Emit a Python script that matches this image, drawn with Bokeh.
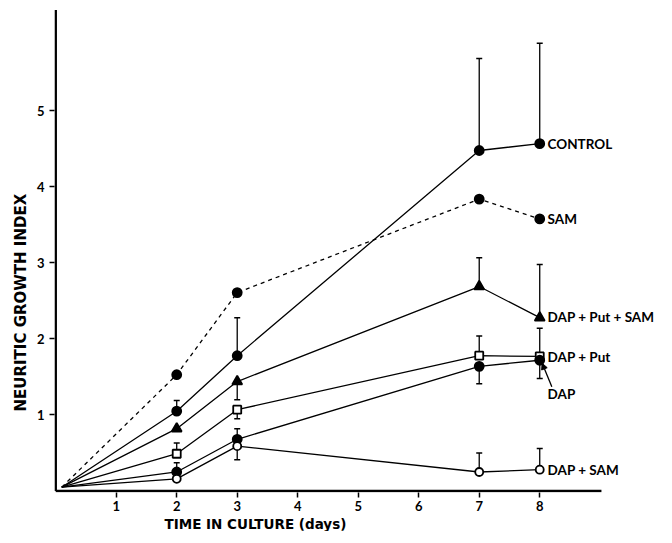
from bokeh.plotting import figure
from bokeh.models import Range1d, FixedTicker, Arrow, NormalHead, ColumnDataSource, LabelSet, Title
from bokeh.core.properties import value
from bokeh.embed import file_html
from bokeh.resources import INLINE

# ---------------- data ----------------
days = [0.1, 2, 3, 7, 8]

control = [0.05, 1.05, 1.78, 4.48, 4.57]
sam = [0.05, 1.53, 2.61, 3.84, 3.58]
dap_put_sam = [0.05, 0.82, 1.44, 2.69, 2.28]
dap_put = [0.05, 0.49, 1.07, 1.78, 1.77]
dap = [0.05, 0.25, 0.68, 1.64, 1.72]
dap_sam = [0.05, 0.16, 0.59, 0.25, 0.28]

# end of each error bar (None = no bar drawn)
control_err = [None, 1.19, 2.28, 5.69, 5.89]
sam_err = [None, None, None, None, None]
dap_put_sam_err = [None, None, 1.20, 3.07, 2.98]
dap_put_err = [None, 0.63, 0.95, 2.04, 2.14]
dap_err = [None, 0.37, 0.82, 1.41, 1.48]
dap_sam_err = [None, None, 0.41, 0.50, 0.56]

series_labels = ["CONTROL", "SAM", "DAP + Put + SAM", "DAP + Put", "DAP", "DAP + SAM"]
label_y = [4.57, 3.58, 2.29, 1.76, 1.28, 0.28]
label_x = 8.13

x_ticks = [1, 2, 3, 4, 5, 6, 7, 8]
y_ticks = [1, 2, 3, 4, 5]
x_axis_end = 9.02
y_axis_end = 6.33

x_title = "TIME IN CULTURE (days)"
y_title = "NEURITIC GROWTH INDEX"

# arrow pointing from "DAP" label to its marker
dap_arrow = (8.2, 1.37, 8.04, 1.68)

FONT = "Lato"
TFONT = "DejaVu Sans"

p = figure(frame_width=602, frame_height=483, output_backend="svg", toolbar_location=None,
           x_range=Range1d(-0.02, 9.93), y_range=Range1d(-0.02, 6.335),
           min_border_left=54, min_border_right=0, min_border_top=9, min_border_bottom=0)
p.outline_line_color = None
p.xgrid.visible = False
p.ygrid.visible = False
p.background_fill_color = "white"

# axis lines (drawn so that the x axis stops at day 9)
p.segment(x0=[0, 0], y0=[0, 0], x1=[0, x_axis_end], y1=[y_axis_end, 0],
          line_color="black", line_width=2.5)

series = [
    (control, control_err, "circle", "black", "solid", 9),
    (sam, sam_err, "circle", "black", "4 4", 9),
    (dap_put_sam, dap_put_sam_err, "triangle", "black", "solid", 10),
    (dap_put, dap_put_err, "square", "white", "solid", 8),
    (dap, dap_err, "circle", "black", "solid", 9),
    (dap_sam, dap_sam_err, "circle", "white", "solid", 8),
]

for ys, errs, marker, fill, dash, size in series:
    p.line(days, ys, line_color="black", line_width=1.3, line_dash=dash)

for ys, errs, marker, fill, dash, size in series:
    ex = [d for d, e in zip(days, errs) if e is not None]
    ey0 = [y for y, e in zip(ys, errs) if e is not None]
    ey1 = [e for e in errs if e is not None]
    if ex:
        p.segment(x0=ex, y0=ey0, x1=ex, y1=ey1, line_color="black", line_width=1.3)
        p.scatter(ex, ey1, marker="dash", size=6, line_color="black", line_width=1.5)

for ys, errs, marker, fill, dash, size in series:
    p.scatter(days[1:], ys[1:], marker=marker, size=size, fill_color=fill,
              line_color="black", line_width=1.8)

src = ColumnDataSource(dict(x=[label_x] * len(series_labels), y=label_y, t=series_labels))
p.add_layout(LabelSet(x="x", y="y", text="t", source=src, text_font=value(FONT),
                      text_font_style="bold", text_font_size="13.5px", text_color="black",
                      text_baseline="middle", text_align="left"))

p.add_layout(Arrow(x_start=dap_arrow[0], y_start=dap_arrow[1], x_end=dap_arrow[2], y_end=dap_arrow[3],
                   line_width=1.3, line_color="black",
                   end=NormalHead(size=6, fill_color="black", line_color="black")))

for ax in (p.xaxis[0], p.yaxis[0]):
    ax.axis_line_color = None
    ax.major_tick_in = 0
    ax.major_tick_out = 5
    ax.major_tick_line_width = 1.5
    ax.minor_tick_in = 0
    ax.minor_tick_out = 0
    ax.major_label_text_font = FONT
    ax.major_label_text_font_style = "bold"
    ax.major_label_text_font_size = "13px"
    ax.major_label_text_color = "black"

p.xaxis[0].ticker = FixedTicker(ticks=x_ticks)
p.yaxis[0].ticker = FixedTicker(ticks=y_ticks)
p.xaxis[0].major_label_standoff = 3

p.add_layout(Title(text=x_title, align="left", offset=110, standoff=0,
                   text_font=TFONT, text_font_size="13.5px", text_font_style="bold",
                   text_color="black"), "below")
p.add_layout(Title(text=y_title, align="left", offset=81, standoff=8,
                   text_font=TFONT, text_font_size="15px", text_font_style="bold",
                   text_color="black"), "left")

open("out.html", "w").write(file_html(p, INLINE))
